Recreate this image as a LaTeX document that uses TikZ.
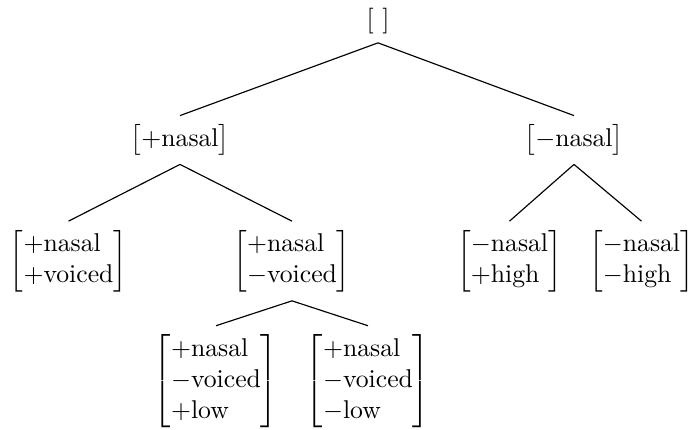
\documentclass[tikz,border=0pt]{standalone}
\usepackage{amsmath,mathtools}
\tikzset{
  avm/.style={inner sep=3.5pt, outer sep=0pt},
  branch/.style={draw=black, line width=0.45pt}
}
\begin{document}
\begin{tikzpicture}[x=0.389pt,y=-0.389pt]
\useasboundingbox (0,0) rectangle (688,430);
\node[avm] (root) at (378,21) {$[\ ]$};
\node[avm] (pn) at (180,140) {$\begin{bmatrix*}[l]+\text{nasal}\end{bmatrix*}$};
\node[avm] (mn) at (574,140) {$\begin{bmatrix*}[l]-\text{nasal}\end{bmatrix*}$};
\node[avm] (pv) at (68.5,261) {$\begin{bmatrix*}[l]+\text{nasal}\\+\text{voiced}\end{bmatrix*}$};
\node[avm] (mv) at (292,261) {$\begin{bmatrix*}[l]+\text{nasal}\\-\text{voiced}\end{bmatrix*}$};
\node[avm] (bl) at (216,381) {$\begin{bmatrix*}[l]+\text{nasal}\\-\text{voiced}\\+\text{low}\end{bmatrix*}$};
\node[avm] (br) at (368,381) {$\begin{bmatrix*}[l]+\text{nasal}\\-\text{voiced}\\-\text{low}\end{bmatrix*}$};
\node[avm] (mh) at (509.5,261) {$\begin{bmatrix*}[l]-\text{nasal}\\+\text{high}\end{bmatrix*}$};
\node[avm] (ml) at (641.5,261) {$\begin{bmatrix*}[l]-\text{nasal}\\-\text{high}\end{bmatrix*}$};
\draw[branch] (root.south) -- (pn.north);
\draw[branch] (root.south) -- (mn.north);
\draw[branch] (pn.south) -- (pv.north);
\draw[branch] (pn.south) -- (mv.north);
\draw[branch] (mv.south) -- (bl.north);
\draw[branch] (mv.south) -- (br.north);
\draw[branch] (mn.south) -- (mh.north);
\draw[branch] (mn.south) -- (ml.north);
\end{tikzpicture}
\end{document}
